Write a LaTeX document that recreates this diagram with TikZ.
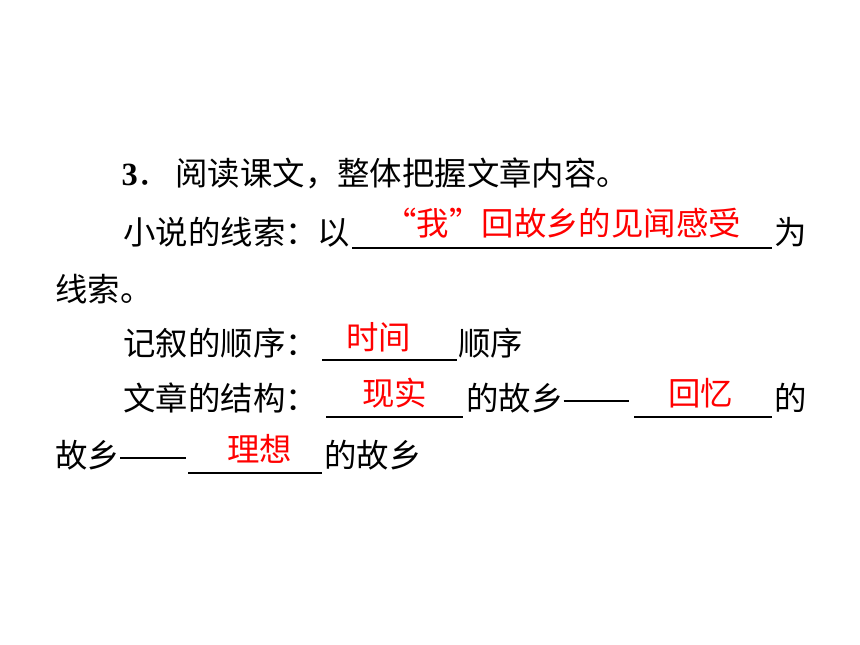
\documentclass[tikz,border=0pt]{standalone}
\usepackage{fontspec}
\newfontfamily\cjk{Noto Sans CJK SC}
\newfontfamily\numfont{Liberation Serif}
\newcommand\longdash{\rule[0.24em]{2.02em}{0.065em}}
\tikzset{every picture/.style={line width=0.75pt}}

\begin{document}
\begin{tikzpicture}[x=0.75pt,y=0.75pt,yscale=-1,xscale=1]
\tikzset{txt/.style={anchor=base west,inner sep=0pt,align=left,font=\cjk\fontsize{24.3}{30}\selectfont},
  ans/.style={txt,text={rgb,255:red,255;green,0;blue,0}},
  blank/.style={line width=1.5pt}}
%set diagram left start at 0, and has height of 645
\useasboundingbox (0,0) rectangle (860,645);

% Text Node
\draw (121,186) node (num) [txt] {{\numfont\bfseries 3}．};
% Text Node
\draw (175,186) node (task) [txt] {阅读课文，整体把握文章内容。};
% Text Node
\draw (123,245) node (clue) [txt] {小说的线索：以};
% Text Node
\draw (384,236) node (clueans) [ans] {“我”回故乡的见闻感受};
% Text Node
\draw (774,245) node (wei) [txt] {为};
% Text Node
\draw (55,301) node (clueend) [txt] {线索。};
% Text Node
\draw (123,355) node (order) [txt] {记叙的顺序：};
% Text Node
\draw (346,349) node (orderans) [ans] {时间};
% Text Node
\draw (458,355) node (orderend) [txt] {顺序};
% Text Node
\draw (123,410) node (struct) [txt] {文章的结构：};
% Text Node
\draw (362,405) node (realans) [ans] {现实};
% Text Node
\draw (466,410) node (home1) [txt] {的故乡\longdash};
% Text Node
\draw (668,405) node (memans) [ans] {回忆};
% Text Node
\draw (774,410) node (de) [txt] {的};
% Text Node
\draw (55,467) node (home2) [txt] {故乡\longdash};
% Text Node
\draw (227,461) node (idealans) [ans] {理想};
% Text Node
\draw (324,467) node (home3) [txt] {的故乡};

%Straight Lines [id:blank clue]
\draw [blank] (352,248) -- (772,248) ;
%Straight Lines [id:blank order]
\draw [blank] (322,360) -- (457,360) ;
%Straight Lines [id:blank real]
\draw [blank] (326,417) -- (463,417) ;
%Straight Lines [id:blank memory]
\draw [blank] (634,417) -- (772,417) ;
%Straight Lines [id:blank ideal]
\draw [blank] (188,473) -- (322,473) ;

\end{tikzpicture}
\end{document}
